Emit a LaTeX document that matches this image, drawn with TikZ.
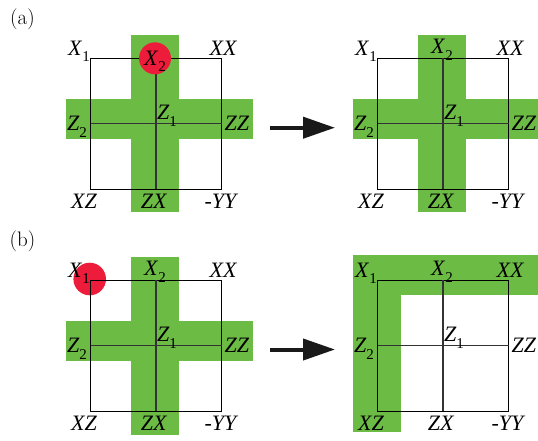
\documentclass[tikz,border=0pt]{standalone}
\usepackage{fontspec}
\newfontfamily\lblfont{Liberation Serif}
\usetikzlibrary{arrows.meta}
\definecolor{pauligreen}{RGB}{108,187,69}
\definecolor{qubitred}{RGB}{236,28,58}
\newcommand\op[2]{\textit{#1}\raisebox{-0.3em}{\fontsize{15}{15}\selectfont #2}}

\begin{document}
\begin{tikzpicture}[
  x={(1pt,0)}, y={(0,-1pt)},
  band/.style={fill=pauligreen, draw=none},
  qubit/.style={fill=qubitred, draw=none},
  grid box/.style={draw=black, line width=1pt},
  grid line/.style={draw=black!80, line width=1.2pt},
  lbl/.style={font=\lblfont\fontsize{22}{22}\selectfont, anchor=base, inner sep=0pt},
  panel/.style={font=\fontsize{21}{21}\selectfont, inner sep=0pt},
  flow/.style={-{Triangle[length=32pt, width=21pt]}, line width=4pt, black!90},
]
\useasboundingbox (0,0) rectangle (538,440);

%% panel tags
\node[panel] (taga) at (22.5,19) {(a)};
\node[panel] (tagb) at (22.5,241) {(b)};

%% green stabiliser bands
\fill[band] (130.7,35) rectangle (179,212);
\fill[band] (65.7,99) rectangle (252.7,139);
\fill[band] (418.3,35) rectangle (465.7,212);
\fill[band] (352.7,99) rectangle (538,139);
\fill[band] (130.7,257.3) rectangle (179,435);
\fill[band] (65.7,321) rectangle (252.7,360.7);
\fill[band] (352.7,255) rectangle (401,432.3);
\fill[band] (352.7,255) rectangle (538,295);

%% measured qubit in (b), under the grid
\fill[qubit] (89.7,279) circle (16.3);

%% squares with cross lines
\foreach \p/\cx/\cy in {al/156/123.5, ar/443/123.5, bl/156/345.5, br/443/345.5} {
  \draw[grid box] (\cx-65.5,\cy-65.5) rectangle (\cx+65.5,\cy+65.5);
  \draw[grid line] (\cx-65.5,\cy) -- (\cx+65.5,\cy);
  \draw[grid line] (\cx,\cy-65.5) -- (\cx,\cy+65.5);
}

%% measured qubit in (a), over the grid
\fill[qubit] (155,58.3) circle (16);

%% qubit labels
\foreach \p/\cx/\cy/\dy in {al/156/123.5/-58.5, ar/443/123.5/-70, bl/156/345.5/-70, br/443/345.5/-70} {
  \node[lbl] (\p-x1) at (\cx-77,\cy-68.5) {\op{X}{1}};
  \node[lbl] (\p-xx) at (\cx+67.5,\cy-68.5) {\textit{XX}};
  \node[lbl] (\p-x2) at (\cx-1,\cy+\dy) {\op{X}{2}};
  \node[lbl] (\p-z2) at (\cx-79,\cy+7) {\op{Z}{2}};
  \node[lbl] (\p-zz) at (\cx+81,\cy+7) {\textit{ZZ}};
  \node[lbl] (\p-z1) at (\cx+11,\cy-4) {\op{Z}{1}};
  \node[lbl] (\p-xz) at (\cx-72,\cy+85) {\textit{XZ}};
  \node[lbl] (\p-zx) at (\cx-2,\cy+85) {\textit{ZX}};
  \node[lbl] (\p-yy) at (\cx+65.5,\cy+85) {\textit{-YY}};
}

%% arrows
\coordinate (fromA) at (270,127.7);
\coordinate (toA) at (335,127.7);
\coordinate (fromB) at (270,349.5);
\coordinate (toB) at (335,349.5);
\draw[flow] (fromA) -- (toA);
\draw[flow] (fromB) -- (toB);

\end{tikzpicture}
\end{document}
